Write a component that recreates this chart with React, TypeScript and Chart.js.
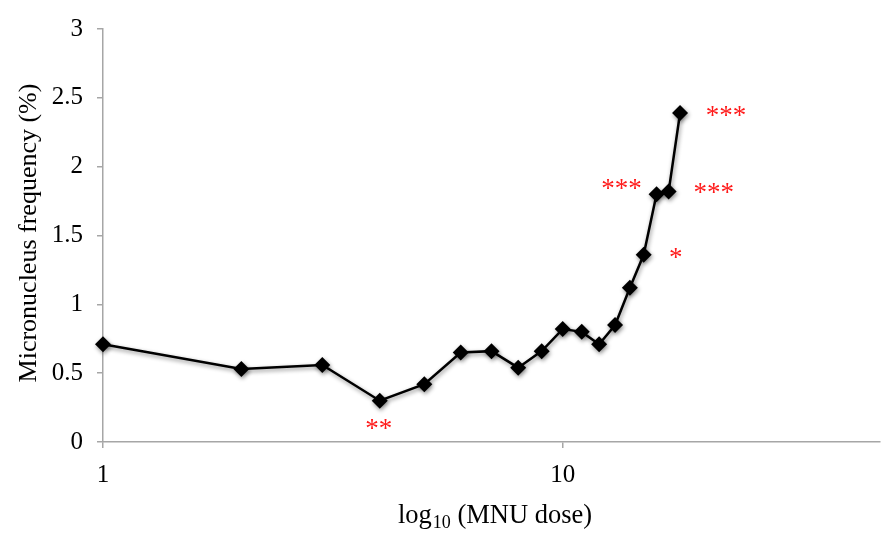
import React, { useEffect, useRef } from "react";
import { Chart, registerables } from "chart.js";

Chart.register(...registerables);

const doses = [1, 2, 3, 4, 5, 6, 7, 8, 9, 10, 11, 12, 13, 14, 15, 16, 17, 18];
const frequency = [0.71, 0.53, 0.56, 0.3, 0.42, 0.65, 0.66, 0.54, 0.66, 0.82, 0.8, 0.71, 0.85, 1.12, 1.36, 1.8, 1.82, 2.39];
const xTickValues = [1, 10];
const yTickValues = [0, 0.5, 1, 1.5, 2, 2.5, 3];
const markIndex = [3, 14, 15, 16, 17];
const markText = ["**", "*", "***", "***", "***"];
const markDx = [-1, 32, -35, 45, 46];
const markDy = [24, -1, -9, -2, -1];

const FONT = "'Liberation Serif', 'Times New Roman', serif";

export default function App() {
  const ref = useRef<HTMLCanvasElement>(null);
  useEffect(() => {
    if (!ref.current) return;
    const shadowPlugin = {
      id: "shadow",
      beforeDatasetsDraw(chart: any) {
        const ctx = chart.ctx;
        ctx.save();
        ctx.shadowColor = "rgba(0,0,0,0.45)";
        ctx.shadowBlur = 4;
        ctx.shadowOffsetX = 1;
        ctx.shadowOffsetY = 2;
      },
      afterDatasetsDraw(chart: any) {
        chart.ctx.restore();
      },
    };
    const textPlugin = {
      id: "texts",
      afterDraw(chart: any) {
        const ctx = chart.ctx;
        const xs = chart.scales.x;
        const ys = chart.scales.y;
        ctx.save();
        // annotations
        ctx.fillStyle = "#ff1a1a";
        ctx.font = `27px ${FONT}`;
        ctx.textAlign = "center";
        ctx.textBaseline = "alphabetic";
        markIndex.forEach((idx, i) => {
          const px = xs.getPixelForValue(doses[idx]) + markDx[i];
          const py = ys.getPixelForValue(frequency[idx]) + markDy[i];
          ctx.fillText(markText[i], px, py + 12);
        });
        // x title with subscript
        ctx.fillStyle = "#000";
        ctx.textBaseline = "alphabetic";
        ctx.textAlign = "left";
        const big = `26.5px ${FONT}`;
        const small = `18px ${FONT}`;
        ctx.font = big;
        const w1 = ctx.measureText("log").width;
        const w3 = ctx.measureText(" (MNU dose)").width;
        ctx.font = small;
        const w2 = ctx.measureText("10").width;
        const total = w1 + w2 + w3 + 1;
        const cx = 495;
        const x0 = cx - total / 2;
        const base = 523;
        ctx.font = big;
        ctx.fillText("log", x0, base);
        ctx.font = small;
        ctx.fillText("10", x0 + w1 + 1, base + 5);
        ctx.font = big;
        ctx.fillText(" (MNU dose)", x0 + w1 + w2 + 1, base);
        // y title
        ctx.translate(29, 233);
        ctx.rotate(-Math.PI / 2);
        ctx.textAlign = "center";
        ctx.textBaseline = "middle";
        ctx.font = `26px ${FONT}`;
        ctx.fillText("Micronucleus frequency (%)", 0, 0);
        ctx.restore();
      },
    };
    const chart = new Chart(ref.current, {
      type: "line",
      data: {
        datasets: [
          {
            data: doses.map((d, i) => ({ x: d, y: frequency[i] })),
            borderColor: "#000",
            backgroundColor: "#000",
            borderWidth: 2.5,
            pointStyle: "rectRot",
            pointRadius: 8,
            pointBorderWidth: 0,
            pointBackgroundColor: "#000",
            tension: 0,
            clip: false,
          },
        ],
      },
      options: {
        animation: false,
        responsive: false,
        maintainAspectRatio: false,
        layout: { autoPadding: false, padding: { top: 27, right: 1, left: 0, bottom: 0 } },
        plugins: { legend: { display: false }, tooltip: { enabled: false } },
        scales: {
          x: {
            type: "logarithmic",
            min: 1,
            max: 49,
            afterBuildTicks(scale: any) {
              scale.ticks = xTickValues.map((v) => ({ value: v }));
            },
            afterFit(scale: any) {
              scale.height = 93;
              scale.paddingLeft = 0;
              scale.paddingRight = 0;
            },
            ticks: {
              autoSkip: false,
              maxRotation: 0,
              color: "#000",
              font: { family: FONT, size: 25 },
              padding: 12,
              callback: (v: any) => String(v),
            },
            grid: { drawOnChartArea: false, drawTicks: true, tickLength: 6, color: "#a6a6a6", lineWidth: 1.5 },
            border: { color: "#a6a6a6", width: 1.5 },
          },
          y: {
            min: 0,
            max: 3,
            afterBuildTicks(scale: any) {
              scale.ticks = yTickValues.map((v) => ({ value: v }));
            },
            afterFit(scale: any) {
              scale.width = 103;
            },
            ticks: {
              color: "#000",
              font: { family: FONT, size: 25 },
              padding: 14,
              callback: (v: any) => String(v),
            },
            grid: { drawOnChartArea: false, drawTicks: true, tickLength: 6, color: "#a6a6a6", lineWidth: 1.5 },
            border: { color: "#a6a6a6", width: 1.5 },
          },
        },
      },
      plugins: [shadowPlugin, textPlugin],
    } as any);
    return () => chart.destroy();
  }, []);
  return (
    <div style={{ position: "fixed", left: 0, top: 0, width: 881, height: 535, background: "#fff" }}>
      <canvas ref={ref} width={881} height={535} style={{ width: 881, height: 535 }} />
    </div>
  );
}
